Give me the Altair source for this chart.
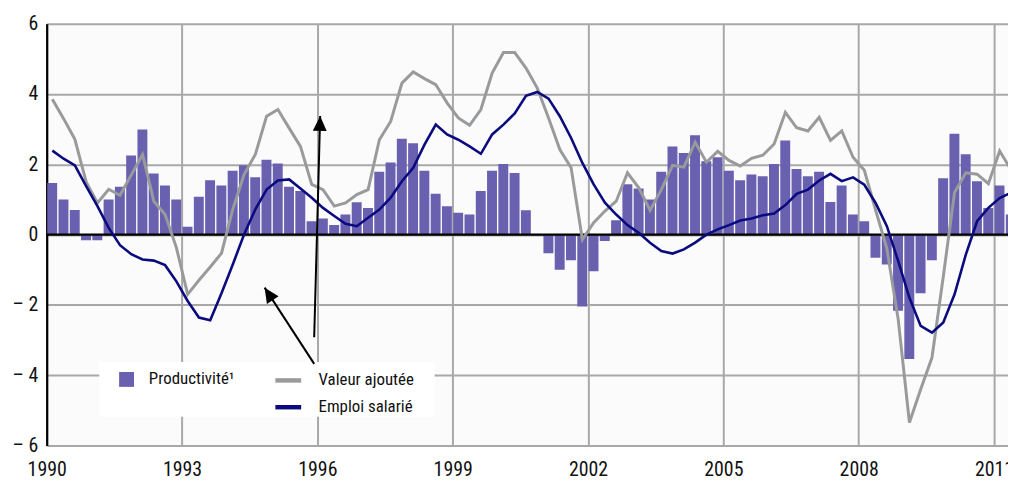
import math
import altair as alt
import pandas as pd

# ---------------- data (quarterly, 1990Q1 .. 2011Q2) ----------------
start_year = 1990
productivite = [
    1.47, 1.00, 0.70, -0.16, -0.16, 1.00, 1.36, 2.25, 2.99, 1.74,
    1.40, 1.00, 0.22, 1.08, 1.55, 1.40, 1.82, 1.97, 1.63, 2.13,
    2.02, 1.36, 1.24, 0.38, 0.46, 0.27, 0.57, 0.92, 0.76, 1.79,
    2.05, 2.73, 2.60, 1.82, 1.16, 0.81, 0.62, 0.57, 1.24, 1.82,
    2.01, 1.75, 0.69, 0.00, -0.53, -1.00, -0.73, -2.05, -1.04, -0.18,
    0.41, 1.43, 1.31, 1.00, 1.79, 2.51, 2.32, 2.83, 2.09, 2.20,
    1.82, 1.55, 1.71, 1.66, 2.01, 2.68, 1.87, 1.66, 1.79, 0.93,
    1.40, 0.57, 0.38, -0.66, -0.85, -2.17, -3.54, -1.67, -0.73, 1.60,
    2.87, 2.29, 1.52, 0.76, 1.40, 0.57,
]
valeur_ajoutee = [
    3.85, 3.30, 2.71, 1.50, 0.90, 1.29, 1.12, 1.70, 2.28, 0.95,
    0.57, -0.37, -1.70, -1.30, -0.92, -0.53, 0.72, 1.71, 2.28, 3.37,
    3.56, 3.03, 2.51, 1.43, 1.28, 0.81, 0.90, 1.14, 1.28, 2.70,
    3.22, 4.31, 4.63, 4.44, 4.27, 3.75, 3.32, 3.11, 3.56, 4.60,
    5.18, 5.18, 4.74, 4.17, 3.32, 2.42, 1.90, -0.14, 0.34, 0.67,
    0.95, 1.76, 1.33, 0.69, 1.28, 1.97, 1.92, 2.63, 2.06, 2.37,
    2.11, 1.95, 2.17, 2.26, 2.58, 3.48, 3.04, 2.95, 3.34, 2.68,
    2.95, 2.20, 1.83, 0.70, -0.40, -2.40, -5.35, -4.40, -3.50, -1.20,
    1.20, 1.76, 1.72, 1.45, 2.38, 1.85,
]
emploi_salarie = [
    2.39, 2.16, 1.97, 1.38, 0.81, 0.19, -0.30, -0.56, -0.71, -0.74,
    -0.87, -1.33, -1.89, -2.36, -2.44, -1.67, -0.85, 0.00, 0.72, 1.28,
    1.54, 1.57, 1.31, 1.05, 0.76, 0.53, 0.31, 0.24, 0.48, 0.71,
    1.05, 1.52, 1.90, 2.56, 3.13, 2.85, 2.70, 2.51, 2.30, 2.85,
    3.13, 3.45, 3.95, 4.06, 3.87, 3.37, 2.75, 2.04, 1.43, 0.91,
    0.57, 0.27, 0.05, -0.23, -0.47, -0.54, -0.42, -0.23, 0.00, 0.15,
    0.27, 0.40, 0.46, 0.55, 0.60, 0.84, 1.16, 1.28, 1.54, 1.73,
    1.52, 1.63, 1.42, 0.90, 0.24, -0.75, -1.80, -2.60, -2.79, -2.50,
    -1.70, -0.57, 0.38, 0.76, 1.04, 1.19,
]
series_names = ["Productivité¹", "Valeur ajoutée", "Emploi salarié"]
x_ticks = [1990, 1993, 1996, 1999, 2002, 2005, 2008, 2011]
y_ticks = [-6, -4, -2, 0, 2, 4, 6]

# ---------------- tables ----------------
q_start = [start_year + 0.25 * i for i in range(len(productivite))]
bars_df = pd.DataFrame({
    "t0": [t + 0.012 for t in q_start],
    "t1": [t + 0.232 for t in q_start],
    "v": productivite,
    "serie": series_names[0],
})
va_df = pd.DataFrame({"t": [t + 0.125 for t in q_start], "v": valeur_ajoutee, "serie": series_names[1]})
em_df = pd.DataFrame({"t": [t + 0.125 for t in q_start], "v": emploi_salarie, "serie": series_names[2]})

FONT = "Liberation Sans Narrow, Arial Narrow, Roboto Condensed, sans-serif"
W, H = 969, 425
XDOM = [1990, 2011.31]
YDOM = [-6, 6]
px_per_year = W / (XDOM[1] - XDOM[0])
px_per_unit = H / (YDOM[1] - YDOM[0])

xs = alt.Scale(domain=XDOM, nice=False, zero=False)
ys = alt.Scale(domain=YDOM, nice=False, zero=False)

x_axis = alt.Axis(values=x_ticks, format="d", grid=True, gridColor="#a8a8a8", gridWidth=2,
                  domain=False, ticks=False, labelPadding=14, labelFontSize=20, labelFont=FONT,
                  labelColor="#111", title=None, labelFlush=False, labelOverlap=False)
y_axis = alt.Axis(values=y_ticks, grid=True, gridColor="#a8a8a8", gridWidth=2,
                  domain=True, domainColor="black", domainWidth=2.2, ticks=False,
                  labelPadding=9, labelFontSize=20, labelFont=FONT, labelColor="#111", title=None,
                  labelExpr="datum.value < 0 ? '\u2013 ' + (-datum.value) : datum.label")

fill_scale = alt.Scale(domain=[series_names[0]], range=["#6a60b0"])
stroke_scale = alt.Scale(domain=series_names[1:], range=["#999a9c", "#0b0b80"])

# white box behind the legend
legend_box = alt.Chart(pd.DataFrame({"k": [0]})).mark_rect(color="white").encode(
    x=alt.value(53), x2=alt.value(391), y=alt.value(341), y2=alt.value(396)
)

bars = alt.Chart(bars_df).mark_bar(clip=True).encode(
    x=alt.X("t0:Q", scale=xs, axis=x_axis),
    x2="t1:Q",
    y=alt.Y("v:Q", scale=ys, axis=y_axis),
    y2=alt.datum(0),
    fill=alt.Fill("serie:N", scale=fill_scale,
                  legend=alt.Legend(orient="none", legendX=72, legendY=350, title=None,
                                    symbolType="square", symbolSize=225, symbolStrokeWidth=0,
                                    labelFont=FONT, labelFontSize=17, labelColor="#111",
                                    labelOffset=14, padding=0)),
)

zero = alt.Chart(pd.DataFrame({"k": [0]})).mark_rule(color="black", strokeWidth=2.2).encode(
    y=alt.datum(0, scale=ys)
)

line_legend = alt.Legend(orient="none", legendX=228, legendY=344, title=None,
                         symbolType="stroke", symbolSize=676, symbolStrokeWidth=4.5,
                         labelFont=FONT, labelFontSize=17, labelColor="#111",
                         labelOffset=15, rowPadding=2, padding=0)

va_line = alt.Chart(va_df).mark_line(clip=True, strokeWidth=3).encode(
    x=alt.X("t:Q", scale=xs),
    y=alt.Y("v:Q", scale=ys),
    stroke=alt.Stroke("serie:N", scale=stroke_scale, legend=line_legend),
)
em_line = alt.Chart(em_df).mark_line(clip=True, strokeWidth=2.6).encode(
    x=alt.X("t:Q", scale=xs),
    y=alt.Y("v:Q", scale=ys),
    stroke=alt.Stroke("serie:N", scale=stroke_scale, legend=line_legend),
)

# ---------------- arrows (annotation) ----------------
arrow_base = [(1995.93, -2.92), (1995.93, -3.68)]
arrow_tip = [(1996.062, 3.374), (1994.831, -1.51)]
shafts = pd.DataFrame({
    "x": [b[0] for b in arrow_base], "y": [b[1] for b in arrow_base],
    "x2": [t[0] for t in arrow_tip], "y2": [t[1] for t in arrow_tip],
})
shaft_layer = alt.Chart(shafts).mark_rule(color="black", strokeWidth=2).encode(
    x=alt.X("x:Q", scale=xs), y=alt.Y("y:Q", scale=ys), x2="x2:Q", y2="y2:Q"
)
head_rows = []
for (bx, by), (tx, ty) in zip(arrow_base, arrow_tip):
    dxp = (tx - bx) * px_per_year
    dyp = -(ty - by) * px_per_unit
    L = math.hypot(dxp, dyp)
    ux, uy = dxp / L, dyp / L
    cxp, cyp = -10 * ux, -10 * uy
    ang = math.degrees(math.atan2(ux, -uy)) % 360
    head_rows.append({"x": tx + cxp / px_per_year, "y": ty - cyp / px_per_unit, "a": ang})
heads = pd.DataFrame(head_rows)
head_layer = alt.Chart(heads).mark_point(
    shape="M0,-1L0.7,0.5L-0.7,0.5Z", filled=True, size=400, color="black", opacity=1, strokeWidth=0
).encode(
    x=alt.X("x:Q", scale=xs), y=alt.Y("y:Q", scale=ys), angle=alt.Angle("a:Q", scale=None)
)

chart = alt.layer(
    legend_box, bars, zero, va_line, em_line, shaft_layer, head_layer
).properties(
    width=W, height=H,
    padding={"left": 39, "top": 14, "right": 0, "bottom": 37},
    autosize=alt.AutoSizeParams(type="none"),
    background="white",
).configure_view(fill="#fbfbfb", stroke=None)

chart.save("out.html", embed_options={"renderer": "svg", "actions": False})
